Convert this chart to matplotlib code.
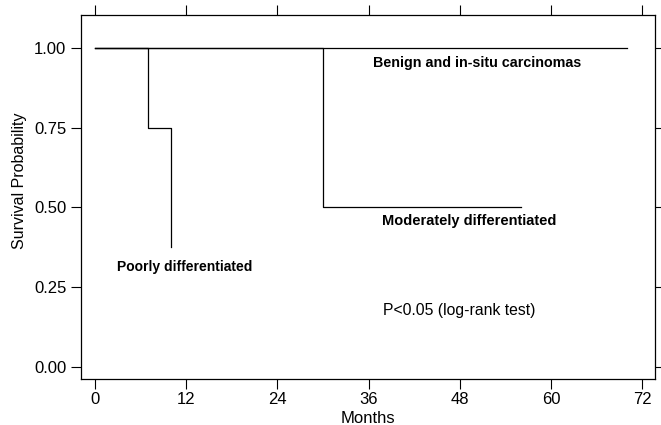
import matplotlib.pyplot as plt

plt.rcParams['font.family'] = ['Liberation Sans', 'DejaVu Sans']

# Kaplan-Meier step curves (months, survival)
benign_t = [0, 70]
benign_s = [1.0, 1.0]
moderate_t = [0, 30, 56]
moderate_s = [1.0, 0.5, 0.5]
poor_t = [0, 7, 10, 10]
poor_s = [1.0, 0.75, 0.75, 0.375]

xticks = [0, 12, 24, 36, 48, 60, 72]
yticks = [0.00, 0.25, 0.50, 0.75, 1.00]

fig = plt.figure(figsize=(6.61, 4.25), dpi=100)
ax = fig.add_axes([0.1225, 0.108, 0.8685, 0.857])

ax.step(benign_t, benign_s, where='post', color='black', lw=0.9)
ax.step(moderate_t, moderate_s, where='post', color='black', lw=0.9)
ax.step(poor_t, poor_s, where='post', color='black', lw=0.9)

ax.text(36.6, 0.953, "Benign and in-situ carcinomas", fontsize=10.3, fontweight='bold', va='center')
ax.text(37.8, 0.456, "Moderately differentiated", fontsize=10.5, fontweight='bold', va='center')
ax.text(2.9, 0.3125, "Poorly differentiated", fontsize=10, fontweight='bold', va='center')
ax.text(37.9, 0.178, "P<0.05 (log-rank test)", fontsize=11.3, va='center')

ax.set_xlim(-1.84, 73.7)
ax.set_ylim(-0.0375, 1.103)
ax.set_xticks(xticks)
ax.set_yticks(yticks)
ax.set_yticklabels([f"{v:.2f}" for v in yticks])
ax.tick_params(axis='both', direction='out', length=7, width=0.8, labelsize=12,
               top=True, right=True, labeltop=False, labelright=False)
ax.tick_params(axis='x', pad=2)
for s in ax.spines.values():
    s.set_linewidth(0.9)

ax.set_xlabel("Months", fontsize=12, labelpad=3)
ax.set_ylabel("Survival Probability", fontsize=11.5)
ax.yaxis.set_label_coords(-0.094, 0.544)

fig.savefig("out.png", dpi=100)
